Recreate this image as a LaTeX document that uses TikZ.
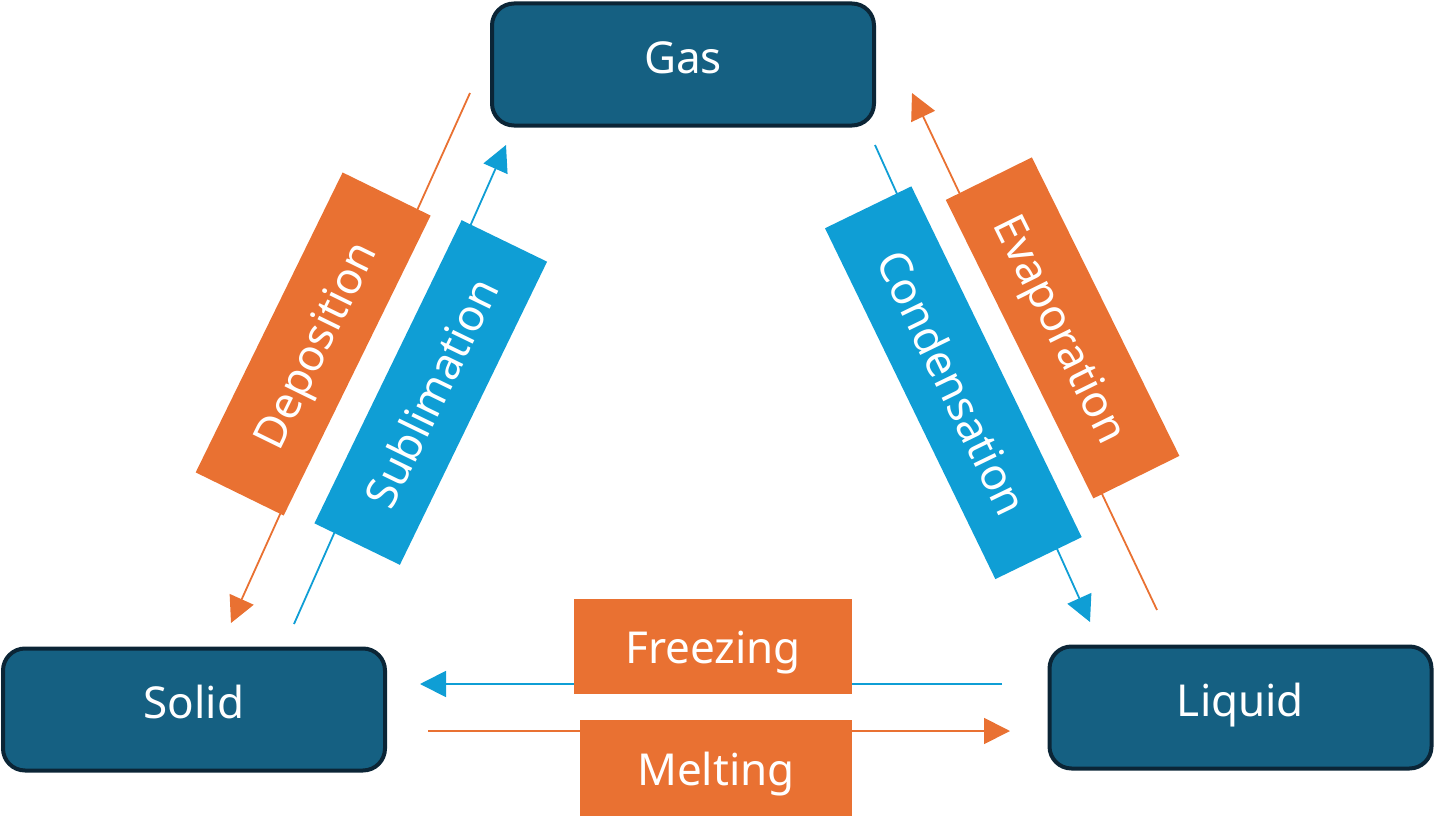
\documentclass[tikz,border=0pt]{standalone}
\usepackage{fontspec}
\setmainfont{Noto Sans}
\usetikzlibrary{arrows.meta}
\definecolor{boxblue}{HTML}{156082}
\definecolor{boxedge}{HTML}{0B2536}
\definecolor{orng}{HTML}{E97132}
\definecolor{skyb}{HTML}{0F9ED5}
\begin{document}
\begin{tikzpicture}[x=1pt,y=-1pt,
  labelfont/.style={text=white, font=\fontsize{44}{52}\selectfont},
  state/.style={labelfont, text height=30pt, text depth=12pt, draw=boxedge, line width=4pt,
    fill=boxblue, rounded corners=22pt, minimum width=382pt, minimum height=122pt, inner sep=0pt},
  proc/.style={labelfont, text height=34pt, text depth=0pt, inner sep=0pt},
  oproc/.style={proc, fill=orng},
  bproc/.style={proc, fill=skyb},
  tip/.style={-{Triangle[length=26pt,width=26pt]}},
  oline/.style={draw=orng, line width=1.8pt, tip},
  bline/.style={draw=skyb, line width=1.8pt, tip}]
\useasboundingbox (0,0) rectangle (1435,816);

% state boxes
\node[state] (gas) at (683,64.5) {Gas};
\node[state] (solid) at (194,709.5) {Solid};
\node[state] (liquid) at (1240.5,707.5) {Liquid};

% connector end points
\coordinate (depA) at (470,93);
\coordinate (depB) at (231,623);
\coordinate (subA) at (294,624);
\coordinate (subB) at (506,145);
\coordinate (conA) at (875,145);
\coordinate (conB) at (1090,622);
\coordinate (evaA) at (1157,610);
\coordinate (evaB) at (912,93);
\coordinate (frzA) at (1002,684);
\coordinate (frzB) at (420,684);
\coordinate (mltA) at (428,731);
\coordinate (mltB) at (1010,731);

\draw[oline] (depA) -- (depB);
\draw[bline] (subA) -- (subB);
\draw[bline] (conA) -- (conB);
\draw[oline] (evaA) -- (evaB);
\draw[bline] (frzA) -- (frzB);
\draw[oline] (mltA) -- (mltB);

% process labels
\node[oproc, rotate=63.9, minimum width=334pt, minimum height=98pt] (dep) at (313.15,344.0) {Deposition};
\node[bproc, rotate=64.1, minimum width=337pt, minimum height=95pt] (sub) at (430.75,392.5) {Sublimation};
\node[bproc, rotate=-64.1, minimum width=390pt, minimum height=96pt] (con) at (953.35,382.7) {Condensation};
\node[oproc, rotate=-63.7, minimum width=333pt, minimum height=96pt] (eva) at (1062.6,327.9) {Evaporation};
\node[oproc, minimum width=278pt, minimum height=95pt] (frz) at (713,646.7) {Freezing};
\node[oproc, minimum width=272pt, minimum height=96pt] (mlt) at (716,768) {Melting};
\end{tikzpicture}
\end{document}
